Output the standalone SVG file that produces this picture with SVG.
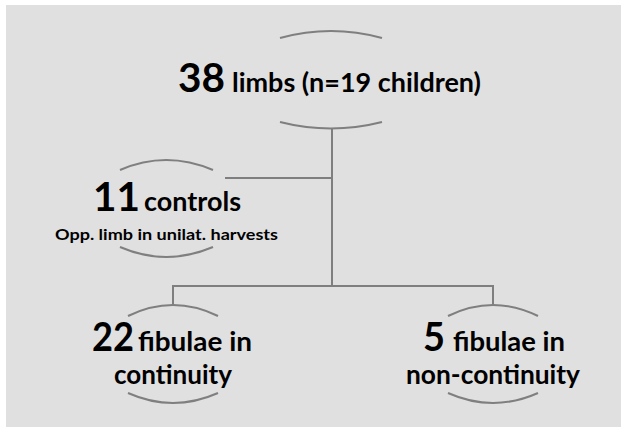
<svg xmlns="http://www.w3.org/2000/svg" width="621" height="427" viewBox="0 0 621 427">
<style>
.arc{fill:none;stroke:#7f7f7f;stroke-width:2}
.ln{fill:none;stroke:#7f7f7f;stroke-width:2}
.big{font-family:Lato,"Liberation Sans",sans-serif;font-weight:bold;font-size:41px;fill:#000}
.mid{font-family:Lato,"Liberation Sans",sans-serif;font-weight:bold;font-size:26px;fill:#000}
.sm{font-family:Lato,"Liberation Sans",sans-serif;font-weight:bold;font-size:16px;fill:#000}
</style>
<rect x="0" y="0" width="621" height="427" fill="#ffffff"/>
<rect x="6" y="5" width="615" height="422" fill="#e0e0e0"/>
<g id="connectors">
<path class="ln" d="M332,128 V286"/>
<path class="ln" d="M225,178 H332"/>
<path class="ln" d="M173,305 V286 H493 V305"/>
</g>
<g id="node-limbs">
<path class="arc" d="M280,38 Q331,24 382,38"/>
<path class="arc" d="M280,122 Q331,135 382,122"/>
<text class="big" x="178" y="92" textLength="47" lengthAdjust="spacingAndGlyphs">38</text>
<text class="mid" x="232" y="92" textLength="249" lengthAdjust="spacingAndGlyphs">limbs (n=19 children)</text>
</g>
<g id="node-controls">
<path class="arc" d="M120,170 Q166,150 213,170"/>
<path class="arc" d="M120,247 Q166,267 213,247"/>
<text class="big" x="93" y="211" textLength="47" lengthAdjust="spacingAndGlyphs">11</text>
<text class="mid" x="144" y="211" textLength="97" lengthAdjust="spacingAndGlyphs">controls</text>
<text class="sm" x="55" y="240" textLength="223" lengthAdjust="spacingAndGlyphs">Opp. limb in unilat. harvests</text>
</g>
<g id="node-continuity">
<path class="arc" d="M128,316 Q173,294 218,316"/>
<path class="arc" d="M128,393 Q173,413 218,393"/>
<text class="big" x="92" y="351" textLength="42" lengthAdjust="spacingAndGlyphs">22</text>
<text class="mid" x="138" y="351" textLength="114" lengthAdjust="spacingAndGlyphs">fibulae in</text>
<text class="mid" x="114" y="384" textLength="118" lengthAdjust="spacingAndGlyphs">continuity</text>
</g>
<g id="node-noncontinuity">
<path class="arc" d="M448,316 Q493,294 538,316"/>
<path class="arc" d="M448,393 Q493,413 538,393"/>
<text class="big" x="423" y="351" textLength="22" lengthAdjust="spacingAndGlyphs">5</text>
<text class="mid" x="453" y="351" textLength="112" lengthAdjust="spacingAndGlyphs">fibulae in</text>
<text class="mid" x="406" y="384" textLength="174" lengthAdjust="spacingAndGlyphs">non-continuity</text>
</g>
</svg>
